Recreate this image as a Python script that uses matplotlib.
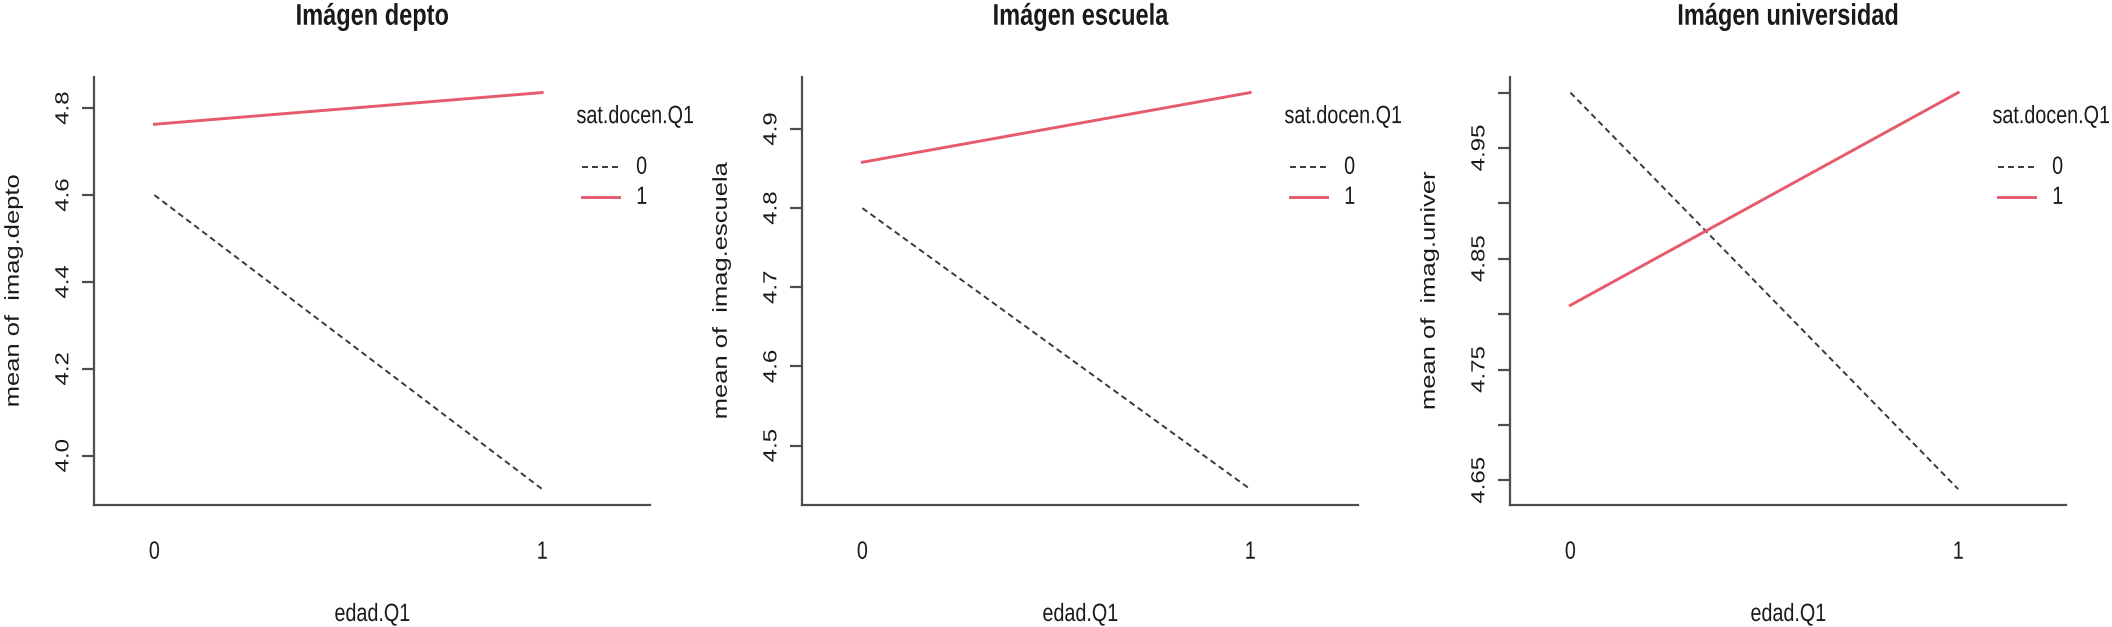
import matplotlib
matplotlib.use('Agg')
import matplotlib.pyplot as plt
from matplotlib import patheffects
from matplotlib.transforms import Affine2D

# Data (mean of each image score by edad.Q1 and sat.docen.Q1)
edad_levels = [0, 1]
edad_labels = ['0', '1']
sat_levels = ['0', '1']

titles = ['Imágen depto', 'Imágen escuela', 'Imágen universidad']
ylabels = ['mean of  imag.depto', 'mean of  imag.escuela', 'mean of  imag.univer']

depto_sat0 = [4.600, 3.923]
depto_sat1 = [4.763, 4.836]
escuela_sat0 = [4.800, 4.445]
escuela_sat1 = [4.858, 4.946]
univer_sat0 = [5.000, 4.642]
univer_sat1 = [4.808, 5.000]

depto_ticks = [4.0, 4.2, 4.4, 4.6, 4.8]
depto_ticklabels = ['4.0', '4.2', '4.4', '4.6', '4.8']
escuela_ticks = [4.5, 4.6, 4.7, 4.8, 4.9]
escuela_ticklabels = ['4.5', '4.6', '4.7', '4.8', '4.9']
univer_ticks = [4.65, 4.70, 4.75, 4.80, 4.85, 4.90, 4.95, 5.00]
univer_ticklabels = ['4.65', '', '4.75', '', '4.85', '', '4.95', '']

panels = [
    (depto_sat0, depto_sat1, depto_ticks, depto_ticklabels),
    (escuela_sat0, escuela_sat1, escuela_ticks, escuela_ticklabels),
    (univer_sat0, univer_sat1, univer_ticks, univer_ticklabels),
]


class Squeeze(patheffects.AbstractPathEffect):
    """Squash text horizontally (the source image is narrower than it is tall)"""

    def __init__(self, sx=0.79, anchor='center'):
        super().__init__()
        self.sx = sx
        self.anchor = anchor

    def draw_path(self, renderer, gc, tpath, affine, rgbFace=None):
        ext = tpath.get_extents(affine)
        if self.anchor == 'left':
            cx = ext.x0
        elif self.anchor == 'right':
            cx = ext.x1
        else:
            cx = (ext.x0 + ext.x1) / 2
        squash = Affine2D().translate(-cx, 0).scale(self.sx, 1).translate(cx, 0)
        renderer.draw_path(gc, tpath, affine + squash, rgbFace)


SX = 0.79
sq_center = [Squeeze(SX, 'center')]
sq_right = [Squeeze(SX, 'right')]

plt.rcParams['font.family'] = ['Liberation Sans', 'DejaVu Sans']
plt.rcParams['lines.scale_dashes'] = False

text_col = '#1a1a1a'
axis_col = '#4d4d4d'
red = '#E65A6E'
dash_col = '#3a3a3a'

fig = plt.figure(figsize=(21.12, 6.27), dpi=100)

W, H = 2112.0, 627.0
ax_w = 555.7 / W
ax_h = (505.0 - 76.7) / H
ax_bottom = 1 - 505.0 / H
lefts = [94.3, 802.3, 1510.3]

for i, (sat0, sat1, yticks, yticklabels) in enumerate(panels):
    ax = fig.add_axes([lefts[i] / W, ax_bottom, ax_w, ax_h])

    ax.plot(edad_levels, sat0, color=dash_col, lw=1.4, dashes=(4.3, 2.9))
    ax.plot(edad_levels, sat1, color=red, lw=2.1)

    # R style 4% padding on y, extra room on the right for the legend
    lo = min(min(sat0), min(sat1))
    hi = max(max(sat0), max(sat1))
    pad = 0.04 * (hi - lo)
    ax.set_ylim(lo - pad, hi + pad)
    ax.set_xlim(-0.155, 1.278)

    # L-shaped box
    for side in ['top', 'right']:
        ax.spines[side].set_visible(False)
    for side in ['left', 'bottom']:
        ax.spines[side].set_color(axis_col)
        ax.spines[side].set_linewidth(1.6)

    ax.set_yticks(yticks)
    ax.set_yticklabels(yticklabels, rotation=90, va='center', fontsize=17.3,
                       color=text_col, path_effects=sq_right)
    ax.tick_params(axis='y', length=8.6, width=1.6, color=axis_col, pad=6.5)

    ax.set_xticks(edad_levels)
    ax.set_xticklabels(edad_labels, fontsize=18, color=text_col, path_effects=sq_center)
    ax.tick_params(axis='x', length=0, pad=25)

    ax.set_ylabel(ylabels[i], fontsize=18.4, color=text_col, va='center',
                  path_effects=sq_center)
    ax.yaxis.set_label_coords(-0.146, 0.5)
    ax.set_xlabel('edad.Q1', fontsize=18, color=text_col, va='center',
                  path_effects=sq_center)
    ax.xaxis.set_label_coords(0.5, -0.2545)

    ax.set_title(titles[i], fontsize=21.5, fontweight='bold', color=text_col,
                 y=1.14, va='center', pad=0, path_effects=sq_center)

    # legend drawn outside the plot region like interaction.plot does
    # (title anchored on its right end so the squashed text starts at the key)
    ax.text(1.079, 0.908, 'sat.docen.Q1', transform=ax.transAxes, ha='right', va='center',
            fontsize=18, color=text_col, clip_on=False, path_effects=sq_right)
    key_y = [0.7895, 0.7194]
    key_styles = [dict(color=dash_col, lw=1.4, dashes=(4.3, 2.9)), dict(color=red, lw=2.1)]
    for lab, ky, st in zip(sat_levels, key_y, key_styles):
        ax.plot([0.878, 0.944], [ky, ky], transform=ax.transAxes, clip_on=False, **st)
        ax.text(0.985, ky, lab, transform=ax.transAxes, ha='center', va='center',
                fontsize=18, color=text_col, clip_on=False, path_effects=sq_center)

plt.savefig('out.png', dpi=100)
plt.close()
